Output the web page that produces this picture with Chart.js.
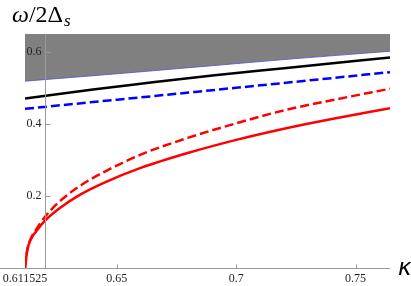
<!DOCTYPE html>
<html>
<head>
<meta charset="utf-8">
<script src="https://cdn.jsdelivr.net/npm/chart.js@4.4.1/dist/chart.umd.min.js"></script>
<style>
  html, body { margin: 0; padding: 0; background: #fff; overflow: hidden; }
  #wrap { width: 411px; height: 286px; }
</style>
</head>
<body>
<div id="wrap"><canvas id="chart" width="411" height="286"></canvas></div>
<script>
// tick values and labels
const kappaTicks = [0.611525, 0.65, 0.7, 0.75];
const kappaTickLabels = ["0.611525", "0.65", "0.7", "0.75"];
const omegaTicks = [0.2, 0.4, 0.6];
const omegaTickLabels = ["0.2", "0.4", "0.6"];

// red curves
const kappaRed = [0.611525, 0.6125, 0.614, 0.616, 0.62, 0.626, 0.635, 0.645, 0.66, 0.68, 0.70, 0.72, 0.74, 0.7644];
const redSolid = [0, 0.050, 0.080, 0.100, 0.132, 0.166, 0.205, 0.238, 0.278, 0.320, 0.356, 0.387, 0.414, 0.444];
const redDashed = [0, 0.051, 0.082, 0.105, 0.143, 0.185, 0.230, 0.268, 0.315, 0.362, 0.402, 0.438, 0.466, 0.498];

// upper curves
const kappaUpper = [0.611525, 0.64, 0.66, 0.69, 0.72, 0.7644];
const blackSolid = [0.471, 0.496, 0.512, 0.535, 0.555, 0.585];
const blueDashed = [0.442, 0.461, 0.474, 0.494, 0.514, 0.544];
const grayEdge = [0.519, 0.534, 0.545, 0.562, 0.579, 0.602];

const kappaMin = 0.611525, kappaMax = 0.7644;
const omegaMin = 0, omegaMax = 0.65;
const yAxisAt = 0.62;

const pts = (xs, ys) => xs.map((x, i) => ({ x: x, y: ys[i] }));

// draws Mathematica-like axes, ticks and labels
const axesPlugin = {
  id: "mmaAxes",
  afterDatasetsDraw(chart) {
    const { ctx, chartArea, scales } = chart;
    const sx = scales.x, sy = scales.y;
    const ax = Math.round(sx.getPixelForValue(yAxisAt)) + 0.5;
    const ay = Math.round(sy.getPixelForValue(0)) + 0.5;
    ctx.save();
    ctx.strokeStyle = "#9a9a9a";
    ctx.lineWidth = 1;
    ctx.beginPath();
    ctx.moveTo(0, ay);
    ctx.lineTo(chartArea.right, ay);
    ctx.moveTo(ax, chartArea.top);
    ctx.lineTo(ax, ay);
    // x tick marks
    kappaTicks.forEach(v => {
      if (v === kappaMin) return;
      const px = Math.round(sx.getPixelForValue(v)) + 0.5;
      ctx.moveTo(px, ay);
      ctx.lineTo(px, ay - 4);
    });
    // y tick marks
    omegaTicks.forEach(v => {
      const py = Math.round(sy.getPixelForValue(v)) + 0.5;
      ctx.moveTo(ax, py);
      ctx.lineTo(ax + 5, py);
    });
    ctx.stroke();

    ctx.fillStyle = "#222";
    ctx.font = "12px 'Liberation Serif'";
    ctx.textAlign = "center";
    ctx.textBaseline = "top";
    kappaTicks.forEach((v, i) => {
      ctx.fillText(kappaTickLabels[i], sx.getPixelForValue(v), ay + 4);
    });
    ctx.textAlign = "right";
    ctx.textBaseline = "middle";
    omegaTicks.forEach((v, i) => {
      ctx.fillText(omegaTickLabels[i], ax - 4, sy.getPixelForValue(v));
    });

    // axis labels
    ctx.fillStyle = "#000";
    ctx.textAlign = "left";
    ctx.textBaseline = "alphabetic";
    let tx = 12;
    ctx.font = "italic 24px 'Liberation Serif'";
    ctx.fillText("ω", tx, 22);
    tx += ctx.measureText("ω").width;
    ctx.font = "24px 'Liberation Serif'";
    ctx.fillText("/2Δ", tx, 22);
    tx += ctx.measureText("/2Δ").width;
    ctx.font = "italic 17px 'Liberation Serif'";
    ctx.fillText("s", tx + 1, 26);

    ctx.font = "italic 23px 'DejaVu Sans'";
    ctx.fillText("κ", 398, 275);
    ctx.restore();
  }
};

new Chart(document.getElementById("chart").getContext("2d"), {
  type: "line",
  data: {
    datasets: [
      {
        data: pts(kappaRed, redSolid),
        borderColor: "#ff0000",
        borderWidth: 2.5,
        cubicInterpolationMode: "monotone",
        fill: false,
      },
      {
        data: pts(kappaRed, redDashed),
        borderColor: "#ff0000",
        borderWidth: 2.5,
        borderDash: [9, 4],
        cubicInterpolationMode: "monotone",
        fill: false,
      },
      {
        data: pts(kappaUpper, blueDashed),
        borderColor: "#0000ff",
        borderWidth: 2.5,
        borderDash: [9, 4],
        cubicInterpolationMode: "monotone",
        fill: false,
      },
      {
        data: pts(kappaUpper, blackSolid),
        borderColor: "#000000",
        borderWidth: 2.5,
        cubicInterpolationMode: "monotone",
        fill: false,
      },
      {
        data: pts(kappaUpper, grayEdge),
        borderColor: "#5050c8",
        borderWidth: 0.8,
        backgroundColor: "#808080",
        cubicInterpolationMode: "monotone",
        fill: "end",
      },
    ],
  },
  options: {
    responsive: false,
    animation: false,
    devicePixelRatio: 1,
    layout: { padding: { left: 25, right: 21, top: 34, bottom: 18 } },
    elements: { point: { radius: 0 } },
    plugins: { legend: { display: false }, tooltip: { enabled: false } },
    scales: {
      x: { type: "linear", min: kappaMin, max: kappaMax, display: false },
      y: { type: "linear", min: omegaMin, max: omegaMax, display: false },
    },
  },
  plugins: [axesPlugin],
});
</script>
</body>
</html>
